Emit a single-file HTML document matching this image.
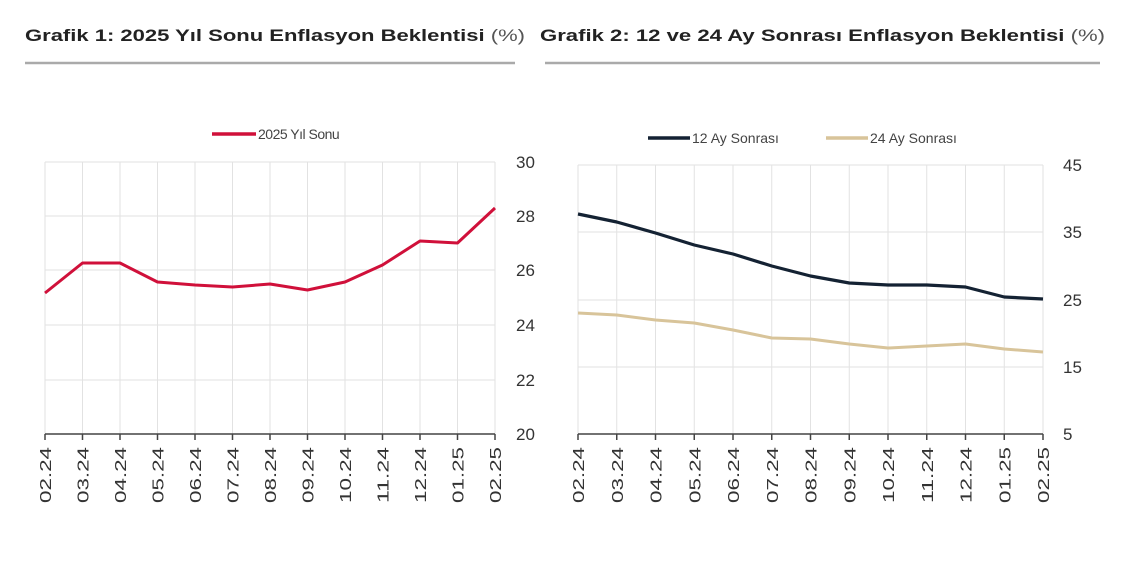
<!DOCTYPE html>
<html><head><meta charset="utf-8"><style>
html,body{margin:0;padding:0;background:#fff;width:1140px;height:570px;overflow:hidden}
svg{display:block;font-family:"Liberation Sans","DejaVu Sans",sans-serif}
</style></head><body>
<svg width="1140" height="570" viewBox="0 0 1140 570" xmlns="http://www.w3.org/2000/svg">
<text x="25" y="41" font-size="17" font-weight="bold" fill="#222" textLength="500" lengthAdjust="spacingAndGlyphs">Grafik 1: 2025 Yıl Sonu Enflasyon Beklentisi <tspan font-weight="normal" fill="#555">(%)</tspan></text>
<text x="540" y="41" font-size="17" font-weight="bold" fill="#222" textLength="565" lengthAdjust="spacingAndGlyphs">Grafik 2: 12 ve 24 Ay Sonrası Enflasyon Beklentisi <tspan font-weight="normal" fill="#555">(%)</tspan></text>
<line x1="25" y1="63" x2="515" y2="63" stroke="#aaa" stroke-width="2.5"/>
<line x1="545" y1="63" x2="1100" y2="63" stroke="#aaa" stroke-width="2.5"/>

<!-- Chart 1 -->
<g stroke="#e2e2e2" stroke-width="1">
<line x1="45" y1="162" x2="495" y2="162"/><line x1="45" y1="216" x2="495" y2="216"/><line x1="45" y1="270" x2="495" y2="270"/><line x1="45" y1="325" x2="495" y2="325"/><line x1="45" y1="380" x2="495" y2="380"/>
<line x1="45" y1="162" x2="45" y2="434"/><line x1="82.5" y1="162" x2="82.5" y2="434"/><line x1="120" y1="162" x2="120" y2="434"/><line x1="157.5" y1="162" x2="157.5" y2="434"/><line x1="195" y1="162" x2="195" y2="434"/><line x1="232.5" y1="162" x2="232.5" y2="434"/><line x1="270" y1="162" x2="270" y2="434"/><line x1="307.5" y1="162" x2="307.5" y2="434"/><line x1="345" y1="162" x2="345" y2="434"/><line x1="382.5" y1="162" x2="382.5" y2="434"/><line x1="420" y1="162" x2="420" y2="434"/><line x1="457.5" y1="162" x2="457.5" y2="434"/><line x1="495" y1="162" x2="495" y2="434"/>
</g>
<line x1="45" y1="434" x2="495" y2="434" stroke="#444" stroke-width="1.5"/>
<g stroke="#444" stroke-width="1.5">
<line x1="45" y1="434" x2="45" y2="440"/><line x1="82.5" y1="434" x2="82.5" y2="440"/><line x1="120" y1="434" x2="120" y2="440"/><line x1="157.5" y1="434" x2="157.5" y2="440"/><line x1="195" y1="434" x2="195" y2="440"/><line x1="232.5" y1="434" x2="232.5" y2="440"/><line x1="270" y1="434" x2="270" y2="440"/><line x1="307.5" y1="434" x2="307.5" y2="440"/><line x1="345" y1="434" x2="345" y2="440"/><line x1="382.5" y1="434" x2="382.5" y2="440"/><line x1="420" y1="434" x2="420" y2="440"/><line x1="457.5" y1="434" x2="457.5" y2="440"/><line x1="495" y1="434" x2="495" y2="440"/>
</g>
<g font-size="17" fill="#333">
<text x="516" y="168">30</text><text x="516" y="222">28</text><text x="516" y="276">26</text><text x="516" y="331">24</text><text x="516" y="386">22</text><text x="516" y="440">20</text>
</g>
<g font-size="16" fill="#333" text-anchor="end">
<text transform="translate(51,447) rotate(-90)" textLength="56" lengthAdjust="spacingAndGlyphs">02.24</text><text transform="translate(88.5,447) rotate(-90)" textLength="56" lengthAdjust="spacingAndGlyphs">03.24</text><text transform="translate(126,447) rotate(-90)" textLength="56" lengthAdjust="spacingAndGlyphs">04.24</text><text transform="translate(163.5,447) rotate(-90)" textLength="56" lengthAdjust="spacingAndGlyphs">05.24</text><text transform="translate(201,447) rotate(-90)" textLength="56" lengthAdjust="spacingAndGlyphs">06.24</text><text transform="translate(238.5,447) rotate(-90)" textLength="56" lengthAdjust="spacingAndGlyphs">07.24</text><text transform="translate(276,447) rotate(-90)" textLength="56" lengthAdjust="spacingAndGlyphs">08.24</text><text transform="translate(313.5,447) rotate(-90)" textLength="56" lengthAdjust="spacingAndGlyphs">09.24</text><text transform="translate(351,447) rotate(-90)" textLength="56" lengthAdjust="spacingAndGlyphs">10.24</text><text transform="translate(388.5,447) rotate(-90)" textLength="56" lengthAdjust="spacingAndGlyphs">11.24</text><text transform="translate(426,447) rotate(-90)" textLength="56" lengthAdjust="spacingAndGlyphs">12.24</text><text transform="translate(463.5,447) rotate(-90)" textLength="56" lengthAdjust="spacingAndGlyphs">01.25</text><text transform="translate(501,447) rotate(-90)" textLength="56" lengthAdjust="spacingAndGlyphs">02.25</text>
</g>
<polyline fill="none" stroke="#d0103a" stroke-width="3" stroke-linejoin="round" points="45,293 82.5,263 120,263 157.5,282 195,285 232.5,287 270,284 307.5,290 345,282 382.5,265 420,241 457.5,243 495,208"/>
<line x1="212" y1="134" x2="256" y2="134" stroke="#d0103a" stroke-width="3.5"/>
<text x="258" y="139" font-size="14" fill="#444" letter-spacing="-0.5">2025 Yıl Sonu</text>

<!-- Chart 2 -->
<g stroke="#e2e2e2" stroke-width="1">
<line x1="578" y1="165" x2="1043" y2="165"/><line x1="578" y1="232" x2="1043" y2="232"/><line x1="578" y1="300" x2="1043" y2="300"/><line x1="578" y1="367" x2="1043" y2="367"/>
<line x1="578" y1="165" x2="578" y2="434"/><line x1="616.75" y1="165" x2="616.75" y2="434"/><line x1="655.5" y1="165" x2="655.5" y2="434"/><line x1="694.25" y1="165" x2="694.25" y2="434"/><line x1="733" y1="165" x2="733" y2="434"/><line x1="771.75" y1="165" x2="771.75" y2="434"/><line x1="810.5" y1="165" x2="810.5" y2="434"/><line x1="849.25" y1="165" x2="849.25" y2="434"/><line x1="888" y1="165" x2="888" y2="434"/><line x1="926.75" y1="165" x2="926.75" y2="434"/><line x1="965.5" y1="165" x2="965.5" y2="434"/><line x1="1004.25" y1="165" x2="1004.25" y2="434"/><line x1="1043" y1="165" x2="1043" y2="434"/>
</g>
<line x1="578" y1="434" x2="1043" y2="434" stroke="#444" stroke-width="1.5"/>
<g stroke="#444" stroke-width="1.5">
<line x1="578" y1="434" x2="578" y2="440"/><line x1="616.75" y1="434" x2="616.75" y2="440"/><line x1="655.5" y1="434" x2="655.5" y2="440"/><line x1="694.25" y1="434" x2="694.25" y2="440"/><line x1="733" y1="434" x2="733" y2="440"/><line x1="771.75" y1="434" x2="771.75" y2="440"/><line x1="810.5" y1="434" x2="810.5" y2="440"/><line x1="849.25" y1="434" x2="849.25" y2="440"/><line x1="888" y1="434" x2="888" y2="440"/><line x1="926.75" y1="434" x2="926.75" y2="440"/><line x1="965.5" y1="434" x2="965.5" y2="440"/><line x1="1004.25" y1="434" x2="1004.25" y2="440"/><line x1="1043" y1="434" x2="1043" y2="440"/>
</g>
<g font-size="17" fill="#333">
<text x="1063" y="171">45</text><text x="1063" y="238">35</text><text x="1063" y="306">25</text><text x="1063" y="373">15</text><text x="1063" y="440">5</text>
</g>
<g font-size="16" fill="#333" text-anchor="end">
<text transform="translate(584,447) rotate(-90)" textLength="56" lengthAdjust="spacingAndGlyphs">02.24</text><text transform="translate(622.75,447) rotate(-90)" textLength="56" lengthAdjust="spacingAndGlyphs">03.24</text><text transform="translate(661.5,447) rotate(-90)" textLength="56" lengthAdjust="spacingAndGlyphs">04.24</text><text transform="translate(700.25,447) rotate(-90)" textLength="56" lengthAdjust="spacingAndGlyphs">05.24</text><text transform="translate(739,447) rotate(-90)" textLength="56" lengthAdjust="spacingAndGlyphs">06.24</text><text transform="translate(777.75,447) rotate(-90)" textLength="56" lengthAdjust="spacingAndGlyphs">07.24</text><text transform="translate(816.5,447) rotate(-90)" textLength="56" lengthAdjust="spacingAndGlyphs">08.24</text><text transform="translate(855.25,447) rotate(-90)" textLength="56" lengthAdjust="spacingAndGlyphs">09.24</text><text transform="translate(894,447) rotate(-90)" textLength="56" lengthAdjust="spacingAndGlyphs">10.24</text><text transform="translate(932.75,447) rotate(-90)" textLength="56" lengthAdjust="spacingAndGlyphs">11.24</text><text transform="translate(971.5,447) rotate(-90)" textLength="56" lengthAdjust="spacingAndGlyphs">12.24</text><text transform="translate(1010.25,447) rotate(-90)" textLength="56" lengthAdjust="spacingAndGlyphs">01.25</text><text transform="translate(1049,447) rotate(-90)" textLength="56" lengthAdjust="spacingAndGlyphs">02.25</text>
</g>
<polyline fill="none" stroke="#d8c49a" stroke-width="3" stroke-linejoin="round" points="578,313 616.75,315 655.5,320 694.25,323 733,330 771.75,338 810.5,339 849.25,344 888,348 926.75,346 965.5,344 1004.25,349 1043,352"/>
<polyline fill="none" stroke="#142233" stroke-width="3.2" stroke-linejoin="round" points="578,214 616.75,222 655.5,233 694.25,245 733,254 771.75,266 810.5,276 849.25,283 888,285 926.75,285 965.5,287 1004.25,297 1043,299"/>
<line x1="648" y1="138" x2="690" y2="138" stroke="#142233" stroke-width="3.5"/>
<text x="692" y="143" font-size="14" fill="#444">12 Ay Sonrası</text>
<line x1="826" y1="138" x2="868" y2="138" stroke="#d8c49a" stroke-width="3.5"/>
<text x="870" y="143" font-size="14" fill="#444">24 Ay Sonrası</text>
</svg>
</body></html>
